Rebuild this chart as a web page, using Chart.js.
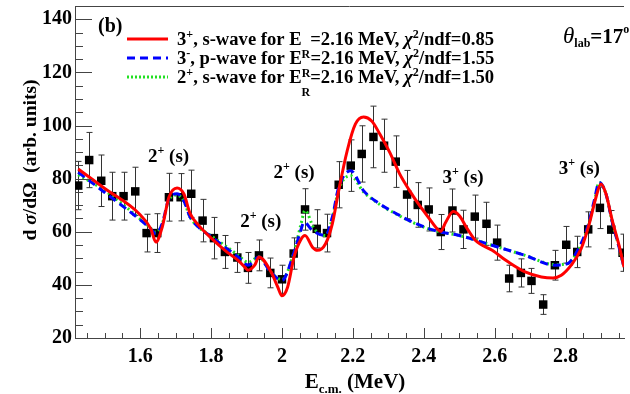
<!DOCTYPE html>
<html>
<head>
<meta charset="utf-8">
<title>E_R = 2.16 MeV fits, theta_lab = 17</title>
<script src="https://cdn.jsdelivr.net/npm/chart.js"></script>
<style>
body { margin: 0; background: #fff; }
#wrap { width: 630px; height: 394px; }
</style>
</head>
<body>
<div id="wrap"><canvas id="chart" width="630" height="394"></canvas></div>
<script>
// measured points (E c.m. in MeV, cross section in arb. units)
const dataX = [1.425,1.456,1.490,1.521,1.553,1.586,1.618,1.648,1.681,1.714,1.744,1.776,1.808,1.839,1.874,1.904,
  1.935,1.967,2.000,2.033,2.065,2.098,2.127,2.160,2.194,2.225,2.258,2.288,2.321,2.353,2.383,2.414,2.448,
  2.481,2.512,2.544,2.577,2.607,2.641,2.674,2.704,2.737,2.770,2.802,2.833,2.864,2.897,2.929,2.961];
const dataY = [77.4,87.0,79.2,73.4,73.4,75.2,59.5,59.5,73.0,73.0,74.3,64.2,57.6,52.4,50.3,46.4,
  51.1,44.5,42.1,51.8,68.4,61.1,59.5,77.7,84.9,89.3,95.7,92.4,86.4,74.0,70.1,68.4,59.9,
  68.0,60.9,65.7,63.0,55.9,42.4,44.5,41.5,32.6,47.4,55.1,52.4,60.9,69.0,60.8,52.1];
const dataErr = [9.1,10.4,9.7,9.0,9.0,9.1,7.1,7.3,9.0,8.9,8.9,8.0,7.8,6.2,5.6,5.8,
  5.8,5.6,5.3,5.9,7.8,7.2,7.1,8.7,9.7,10.6,11.6,10.0,9.7,9.1,8.4,8.1,6.6,
  8.1,7.2,8.1,8.1,6.6,5.0,5.3,4.7,3.7,5.6,6.9,5.9,6.6,7.8,7.2,7.0];

// fit curves
const redX = [1.425,1.50,1.597,1.630,1.644,1.662,1.681,1.704,1.723,1.741,1.765,1.802,1.839,1.876,1.895,1.904,1.923,1.935,
  1.969,1.988,2.000,2.016,2.034,2.053,2.065,2.086,2.100,2.123,2.142,2.160,2.184,2.207,2.230,2.253,2.276,2.304,2.332,
  2.360,2.388,2.416,2.434,2.448,2.462,2.483,2.500,2.523,2.546,2.593,2.639,2.686,2.732,2.765,2.788,2.816,2.844,2.867,
  2.886,2.900,2.914,2.932,2.951,2.965];
const redY = [83.6,76.3,66.8,61.1,56.1,61.7,73.0,76.5,74.3,66.8,62.4,57.4,53.0,49.2,46.7,45.5,47.4,50.5,
  44.9,39.2,35.9,39.2,50.5,57.0,58.6,54.2,53.0,55.5,63.0,75.5,90.5,100.5,103.2,101.7,96.8,89.9,81.8,
  75.5,69.9,64.9,61.7,60.2,63.6,67.6,66.1,61.1,56.7,53.0,48.6,44.9,43.0,42.6,43.6,47.4,53.6,63.0,
  73.0,78.0,74.3,64.2,54.9,46.7];
const blueX = [1.425,1.50,1.625,1.644,1.662,1.681,1.704,1.723,1.741,1.765,1.802,1.839,1.876,1.904,1.935,1.967,2.000,
  2.033,2.053,2.062,2.086,2.123,2.142,2.160,2.194,2.230,2.276,2.323,2.369,2.416,2.448,2.500,2.593,2.686,2.770,2.806,
  2.834,2.862,2.881,2.895,2.914,2.932,2.951,2.965];
const blueY = [82.4,74.8,61.7,59.3,63.0,72.4,74.3,71.7,65.5,61.7,58.0,54.2,50.5,47.4,50.5,44.9,41.7,
  51.8,60.5,63.6,60.5,58.6,65.5,76.7,83.0,75.5,70.5,66.8,63.6,61.1,59.9,58.6,54.9,51.1,47.4,48.0,
  53.0,61.7,71.7,78.6,74.3,63.6,54.2,46.7];
const greenX = [1.425,1.50,1.625,1.644,1.662,1.681,1.704,1.723,1.741,1.765,1.802,1.839,1.876,1.904,1.935,1.967,2.000,
  2.033,2.053,2.065,2.091,2.123,2.142,2.160,2.194,2.230,2.276,2.323,2.369,2.416,2.448,2.500,2.593,2.686,2.770,2.806,
  2.834,2.862,2.881,2.895,2.914,2.932,2.951,2.965];
const greenY = [81.5,75.5,62.0,59.8,63.0,72.0,73.8,71.5,65.5,61.7,58.3,54.8,51.2,48.5,50.5,45.0,42.0,
  51.8,62.5,68.0,61.1,58.6,65.0,76.0,81.1,75.0,70.3,66.6,63.5,61.0,59.9,58.6,54.9,51.1,47.6,48.0,
  52.5,61.0,71.0,78.6,74.3,63.6,54.2,46.7];

// legend entries
const legSpin = ['3', '3', '2'];
const legParity = ['+', '-', '+'];
const legWave = ['s', 'p', 's'];
const legER = ['2.16', '2.16', '2.16'];
const legChi2 = ['0.85', '1.55', '1.50'];

// resonance labels
const resSpin = ['2', '2', '2', '3', '3'];
const resX = [1.680, 1.940, 2.034, 2.511, 2.839];
const resY = [89.0, 64.6, 83.0, 81.1, 84.5];

const xTicks = [1.6, 1.8, 2.0, 2.2, 2.4, 2.6, 2.8];
const yTicks = [20, 40, 60, 80, 100, 120, 140];

const SERIF = '"Liberation Serif", "DejaVu Serif", serif';
const colors = { red: '#ff0000', blue: '#0000ff', green: '#22e022' };

function pts(xs, ys) {
  return xs.map((x, i) => ({ x: x, y: ys[i] }));
}

function rich(ctx, x, y, segs, base) {
  segs.forEach(s => {
    const size = s.size || base;
    ctx.font = (s.italic ? 'italic ' : '') + (s.normal ? '' : 'bold ') + size + 'px ' + SERIF;
    ctx.fillText(s.t, x, y + (s.dy || 0));
    x += ctx.measureText(s.t).width;
  });
  return x;
}

function richWidth(ctx, segs, base) {
  let w = 0;
  segs.forEach(s => {
    const size = s.size || base;
    ctx.font = (s.italic ? 'italic ' : '') + (s.normal ? '' : 'bold ') + size + 'px ' + SERIF;
    w += ctx.measureText(s.t).width;
  });
  return w;
}

const rootStyle = {
  id: 'rootStyle',
  beforeDatasetsDraw(chart) {
    // error bars under the markers
    const ctx = chart.ctx, xs = chart.scales.x, ys = chart.scales.y, a = chart.chartArea;
    ctx.save();
    ctx.beginPath();
    ctx.rect(a.left, a.top, a.right - a.left, a.bottom - a.top);
    ctx.clip();
    ctx.strokeStyle = '#333';
    ctx.lineWidth = 1;
    for (let i = 0; i < dataX.length; i++) {
      const px = Math.round(xs.getPixelForValue(dataX[i])) + 0.5;
      const t = ys.getPixelForValue(dataY[i] + dataErr[i]);
      const b = ys.getPixelForValue(dataY[i] - dataErr[i]);
      ctx.beginPath();
      ctx.moveTo(px, t); ctx.lineTo(px, b);
      ctx.moveTo(px - 3, t); ctx.lineTo(px + 3, t);
      ctx.moveTo(px - 3, b); ctx.lineTo(px + 3, b);
      ctx.stroke();
    }
    ctx.restore();
  },
  afterDraw(chart) {
    const ctx = chart.ctx, xs = chart.scales.x, ys = chart.scales.y, a = chart.chartArea;
    ctx.save();
    // frame top and inner ticks
    ctx.strokeStyle = '#444';
    ctx.lineWidth = 1;
    ctx.beginPath();
    ctx.moveTo(a.left, a.top + 0.5); ctx.lineTo(a.right, a.top + 0.5);
    for (let v = 20; v <= 145; v += 5) {
      const py = Math.round(ys.getPixelForValue(v)) + 0.5;
      const len = (v % 20 === 0) ? 17 : 8;
      ctx.moveTo(a.left, py); ctx.lineTo(a.left + len, py);
    }
    for (let k = 29; k <= 59; k++) {
      const v = k * 0.05;
      if (v < xs.min || v > xs.max) continue;
      const px = Math.round(xs.getPixelForValue(v)) + 0.5;
      const len = (k % 4 === 0) ? 10 : 5;
      ctx.moveTo(px, a.bottom); ctx.lineTo(px, a.bottom - len);
    }
    ctx.stroke();

    ctx.fillStyle = '#000';
    ctx.textBaseline = 'alphabetic';
    ctx.textAlign = 'left';

    // (b)
    ctx.font = 'bold 20px ' + SERIF;
    ctx.fillText('(b)', 98, 32);

    // legend
    const styles = [
      { c: colors.red, d: [] },
      { c: colors.blue, d: [8, 5] },
      { c: colors.green, d: [2, 2] }
    ];
    for (let i = 0; i < legSpin.length; i++) {
      const cy = 39 + i * 19;
      ctx.strokeStyle = styles[i].c;
      ctx.lineWidth = 3;
      ctx.setLineDash(styles[i].d);
      ctx.beginPath();
      ctx.moveTo(127, cy); ctx.lineTo(168, cy);
      ctx.stroke();
      ctx.setLineDash([]);
      rich(ctx, 177, cy + 6, [
        { t: legSpin[i] },
        { t: legParity[i], size: 12, dy: -7 },
        { t: ', ' + legWave[i] + '-wave for E' },
        { t: 'R', size: 12, dy: 13 },
        { t: '=' + legER[i] + ' MeV, ' },
        { t: 'χ', italic: true },
        { t: '2', size: 12, dy: -7 },
        { t: '/ndf=' + legChi2[i] }
      ], 18.6);
    }

    // theta label
    rich(ctx, 563, 43, [
      { t: 'θ', italic: true, normal: true, size: 23 },
      { t: 'lab', size: 12, dy: 4 },
      { t: '=17', size: 21 },
      { t: 'o', size: 12, dy: -10 }
    ], 21);

    // resonance labels
    for (let i = 0; i < resSpin.length; i++) {
      const segs = [{ t: resSpin[i] }, { t: '+', size: 12, dy: -8 }, { t: ' (s)' }];
      const w = richWidth(ctx, segs, 19);
      const px = xs.getPixelForValue(resX[i]);
      const py = ys.getPixelForValue(resY[i]);
      rich(ctx, px - w / 2, py + 7, segs, 19);
    }

    // axis titles
    const xt = [{ t: 'E', size: 21 }, { t: 'c.m.', size: 13, dy: 5 }, { t: ' (MeV)', size: 21 }];
    const xw = richWidth(ctx, xt, 21);
    rich(ctx, 355 - xw / 2, 388, xt, 21);

    ctx.translate(36, 160);
    ctx.rotate(-Math.PI / 2);
    const yt = [{ t: 'd ' }, { t: 'σ', italic: true }, { t: '/dΩ  (arb. units)' }];
    const yw = richWidth(ctx, yt, 19.5);
    rich(ctx, -yw / 2, 0, yt, 19.5);
    ctx.restore();
  }
};

const chart = new Chart(document.getElementById('chart'), {
  type: 'scatter',
  data: {
    datasets: [
      {
        label: 'red', data: pts(redX, redY), showLine: true, borderColor: colors.red, borderWidth: 3,
        pointRadius: 0, cubicInterpolationMode: 'monotone', order: 0
      },
      {
        label: 'blue', data: pts(blueX, blueY), showLine: true, borderColor: colors.blue, borderWidth: 3,
        borderDash: [8, 5], pointRadius: 0, cubicInterpolationMode: 'monotone', order: 1
      },
      {
        label: 'green', data: pts(greenX, greenY), showLine: true, borderColor: colors.green, borderWidth: 3,
        borderDash: [2, 3], pointRadius: 0, cubicInterpolationMode: 'monotone', order: 2
      },
      {
        label: 'data', data: pts(dataX, dataY), pointStyle: 'rect', pointRadius: 6,
        backgroundColor: '#000', borderWidth: 0, order: 3
      }
    ]
  },
  options: {
    responsive: false,
    animation: false,
    devicePixelRatio: 1,
    layout: { padding: { top: 5, right: 0, left: 0, bottom: 0 } },
    plugins: { legend: { display: false }, tooltip: { enabled: false } },
    scales: {
      x: {
        type: 'linear', min: 1.416, max: 2.965,
        grid: { display: false, drawTicks: false },
        border: { display: true, color: '#444', width: 1 },
        ticks: {
          color: '#000', padding: 7, maxRotation: 0, autoSkip: false,
          font: { family: SERIF, size: 20, weight: 'bold' },
          callback: v => String(+v.toFixed(2))
        },
        afterBuildTicks: s => { s.ticks = xTicks.map(v => ({ value: v })); },
        afterFit: s => { s.height = 56; s.paddingLeft = 0; s.paddingRight = 0; }
      },
      y: {
        type: 'linear', min: 20, max: 145,
        grid: { display: false, drawTicks: false },
        border: { display: true, color: '#444', width: 1 },
        ticks: {
          color: '#000', padding: 3,
          font: { family: SERIF, size: 20, weight: 'bold' }
        },
        afterBuildTicks: s => { s.ticks = yTicks.map(v => ({ value: v })); },
        afterFit: s => { s.width = 75; s.paddingTop = 0; s.paddingBottom = 0; }
      }
    }
  },
  plugins: [rootStyle]
});
</script>
</body>
</html>
